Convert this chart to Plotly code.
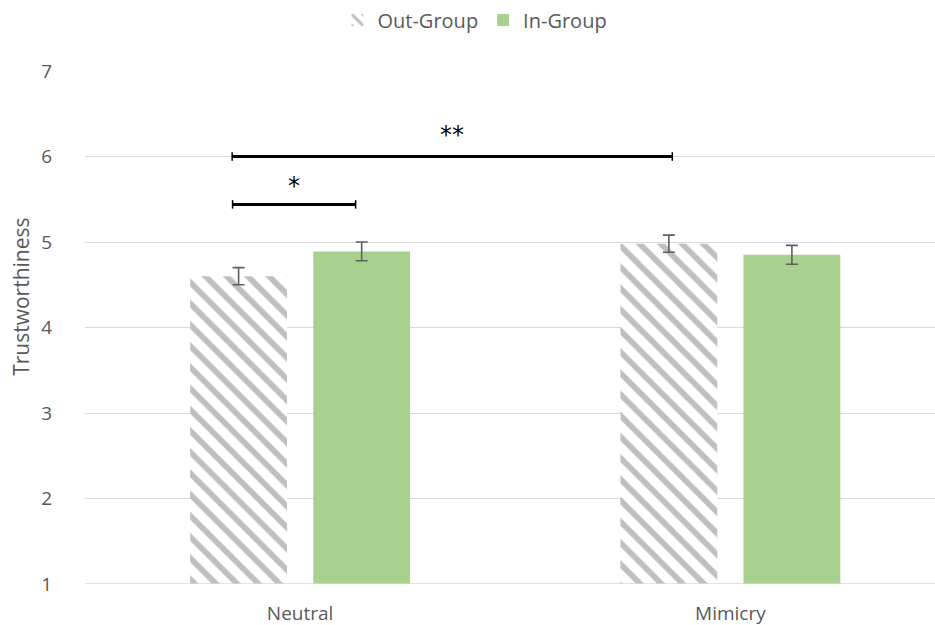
import plotly.graph_objects as go

# Data
conditions = ["Neutral", "Mimicry"]
out_group = [4.60, 4.98]
in_group = [4.89, 4.85]
out_err = [0.10, 0.10]
in_err = [0.11, 0.11]

# Significance brackets: (start, end) in category units, height, label
sig_starts = [-0.158, -0.157]
sig_ends = [0.865, 0.129]
sig_heights = [6.0, 5.44]
sig_labels = ["**", "*"]
sig_label_shift = [22, 18]  # pixel offset of the star label above its bracket

y_ticks = [1, 2, 3, 4, 5, 6, 7]

FONT = "Open Sans"
GREY_TXT = "#595959"

fig = go.Figure()
fig.add_trace(go.Bar(
    name="Out-Group", x=conditions, y=out_group,
    marker=dict(color="white",
                pattern=dict(shape="\\", fgcolor="#BFBFBF", bgcolor="white",
                             size=15, solidity=0.38, fillmode="replace"),
                line=dict(width=0)),
    error_y=dict(type="data", array=out_err, color="#5f5f5f", thickness=1.6, width=6),
))
fig.add_trace(go.Bar(
    name="In-Group", x=conditions, y=in_group,
    marker=dict(color="#A9D18E", line=dict(width=0)),
    error_y=dict(type="data", array=in_err, color="#5f5f5f", thickness=1.6, width=6),
))

# Significance brackets
for x0, x1, h, lab, sh in zip(sig_starts, sig_ends, sig_heights, sig_labels, sig_label_shift):
    fig.add_shape(type="line", x0=x0, x1=x1, y0=h, y1=h, xref="x", yref="y",
                  line=dict(color="black", width=3))
    for xe in (x0, x1):
        fig.add_shape(type="line", x0=xe, x1=xe, y0=h - 0.05, y1=h + 0.05,
                      xref="x", yref="y", line=dict(color="black", width=1.5))
    fig.add_annotation(x=(x0 + x1) / 2, y=h, xref="x", yref="y", text=lab,
                       showarrow=False, yshift=sh,
                       font=dict(family="DejaVu Sans", size=24, color="black"))

# Rotated axis title
fig.add_annotation(text="Trustworthiness", xref="paper", yref="paper",
                   x=-0.094, y=0.56, textangle=-90, showarrow=False,
                   font=dict(family=FONT, size=21, color=GREY_TXT))

fig.update_layout(
    width=935, height=625,
    margin=dict(l=85, r=0, t=71, b=41),
    paper_bgcolor="white", plot_bgcolor="white",
    barmode="group", bargap=0.428, bargroupgap=0.213,
    font=dict(family=FONT, color=GREY_TXT),
    showlegend=True,
    legend=dict(orientation="h", xref="container", yref="container",
                x=0.508, y=1 - 20 / 625, xanchor="center", yanchor="middle",
                font=dict(family=FONT, size=20, color=GREY_TXT),
                itemwidth=30, traceorder="normal"),
    xaxis=dict(range=[-0.5, 1.4756], showgrid=False, showline=False,
               zeroline=False, ticks="", tickfont=dict(size=19, color=GREY_TXT),
               ticklabelstandoff=16),
    yaxis=dict(range=[1, 7], tickvals=y_ticks, showgrid=True,
               gridcolor="#D9D9D9", gridwidth=1, zeroline=False,
               showline=False, ticks="", tickfont=dict(size=19, color=GREY_TXT),
               ticklabelstandoff=32),
)
fig.add_shape(type="line", xref="paper", yref="y", x0=0, x1=1, y0=1, y1=1,
              line=dict(color="#D9D9D9", width=1.5))

fig.write_html("out.html")
